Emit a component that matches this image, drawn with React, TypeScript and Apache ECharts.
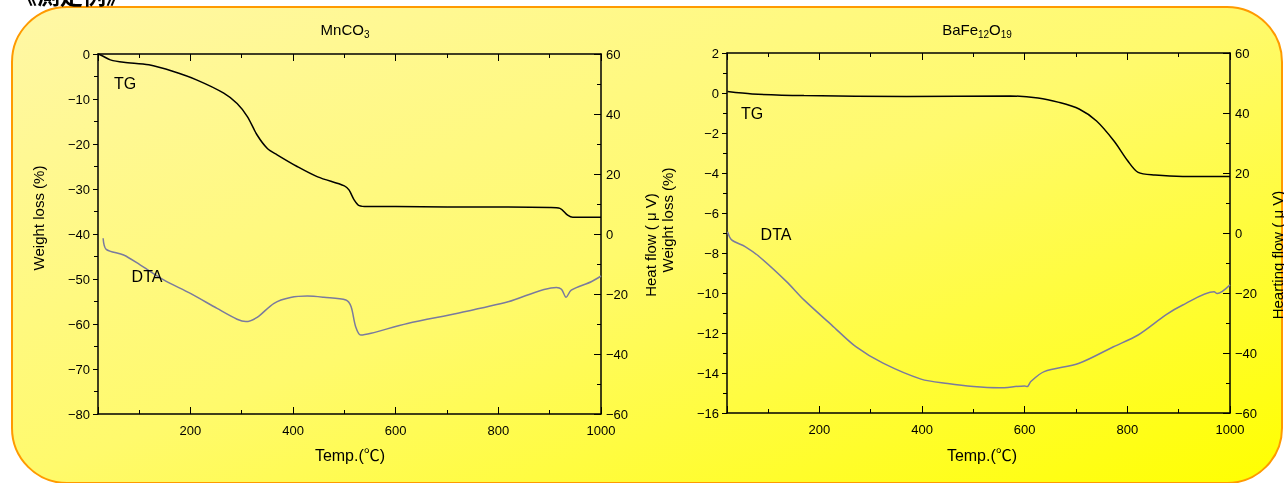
import React, { useEffect, useRef } from "react";
import * as echarts from "echarts";

// ---- Data (temperature °C, value) ----
const mnTG: [number, number][] = [
  [21, 0], [30, -0.5], [44, -1.3], [70, -1.85], [119, -2.4], [167, -3.9], [213, -5.8],
  [265, -8.7], [291, -11], [311, -13.9], [330, -18], [350, -21], [369, -22.4], [408, -25],
  [448, -27.3], [500, -29.3], [509, -30.2], [519, -32.4], [529, -33.7], [545, -33.9],
  [600, -33.9], [700, -34.0], [800, -34.0], [900, -34.1], [920, -34.3], [935, -35.8],
  [945, -36.3], [1000, -36.3],
];
const mnDTA: [number, number][] = [
  [30, -1.4], [36, -5.1], [70, -7], [102, -10.3], [148, -15.3], [200, -19.8], [252, -24.8],
  [291, -28.4], [308, -29.2], [330, -27.8], [363, -23.1], [395, -21.2], [428, -20.7],
  [460, -21.1], [503, -22], [513, -24.2], [522, -30.9], [532, -33.7], [552, -33.1],
  [623, -29.8], [721, -26.4], [819, -22.6], [913, -17.8], [923, -18.4], [932, -21.1],
  [942, -18.7], [981, -15.9], [1000, -14],
];
const baTG: [number, number][] = [
  [21, 0.07], [69, -0.05], [170, -0.13], [370, -0.17], [572, -0.15], [626, -0.25],
  [667, -0.47], [706, -0.8], [740, -1.4], [774, -2.4], [801, -3.4], [821, -3.97],
  [854, -4.1], [908, -4.17], [1000, -4.17],
];
const baDTA: [number, number][] = [
  [21, 0.4], [29, -2.3], [56, -4.6], [83, -7.9], [136, -16.2], [170, -22.3], [224, -30.7],
  [271, -37.9], [324, -43.4], [398, -48.7], [450, -50.2], [500, -51.2], [550, -51.6],
  [600, -51.0], [605, -51.2], [612, -49.5], [638, -46.2], [706, -43.4], [773, -37.9],
  [821, -34], [875, -27.3], [908, -24], [969, -19.6], [975, -20.2], [1000, -17.3],
];

const FONT = "'Liberation Sans', 'Noto Sans CJK JP', sans-serif";
const fmt = (v: number) => String(v).replace("-", "\u2212");

export default function App() {
  const ref = useRef<HTMLDivElement>(null);
  useEffect(() => {
    if (!ref.current) return;
    const chart = echarts.init(ref.current, null, { renderer: "svg" });

    const xAxisBase = (gridIndex: number, position: "bottom" | "top") => ({
      type: "value",
      gridIndex,
      position,
      min: 20,
      max: 1000,
      axisLine: { show: true, onZero: false, lineStyle: { color: "#000", width: 1.5 } },
      axisTick: { show: true, inside: true, length: 7, lineStyle: { color: "#000" } },
      minorTick: { show: true, splitNumber: 2, length: 4, lineStyle: { color: "#000" } },
      splitLine: { show: false },
      axisLabel: {
        show: position === "bottom",
        showMinLabel: false,
        color: "#000",
        fontSize: 13,
        fontFamily: FONT,
        margin: 10,
        formatter: fmt,
      },
    });

    const yAxisBase = (gridIndex: number, position: "left" | "right", min: number, max: number, interval: number) => ({
      type: "value",
      gridIndex,
      position,
      min,
      max,
      interval,
      axisLine: { show: true, onZero: false, lineStyle: { color: "#000", width: 1.5 } },
      axisTick: { show: true, inside: position === "right", length: position === "right" ? 7 : 5, lineStyle: { color: "#000" } },
      minorTick: { show: true, splitNumber: 2, length: 4, lineStyle: { color: "#000" } },
      splitLine: { show: false },
      axisLabel: { color: "#000", fontSize: 13, fontFamily: FONT, margin: position === "right" ? 5 : 8, formatter: fmt },
    });

    const vText = (text: string, x: number, y: number) => ({
      type: "text",
      x,
      y,
      rotation: Math.PI / 2,
      z: 100,
      style: {
        text,
        fill: "#000",
        font: `15px ${FONT}`,
        align: "center",
        verticalAlign: "middle",
      },
    });
    const hText = (text: string, x: number, y: number, size = 16) => ({
      type: "text",
      x,
      y,
      z: 100,
      style: {
        text,
        fill: "#000",
        font: `${size}px ${FONT}`,
        align: "center",
        verticalAlign: "middle",
      },
    });
    const titleText = (text: string, x: number) => ({
      type: "text",
      x,
      y: 29,
      z: 100,
      style: {
        text,
        fill: "#000",
        fontFamily: FONT,
        fontSize: 15,
        align: "center",
        verticalAlign: "middle",
        rich: {
          a: { fontSize: 15, fontFamily: FONT, fill: "#000" },
          s: { fontSize: 10, fontFamily: FONT, fill: "#000", padding: [10, 0, 0, 0] },
        },
      },
    });

    const lineSeries = (data: [number, number][], xi: number, yi: number, color: string) => ({
      type: "line",
      xAxisIndex: xi,
      yAxisIndex: yi,
      data,
      showSymbol: false,
      smooth: 0.3,
      lineStyle: { color, width: 1.5 },
      silent: true,
    });

    chart.setOption({
      animation: false,
      grid: [
        { left: 98, top: 54, width: 503, height: 360 },
        { left: 727, top: 53, width: 503, height: 360 },
      ],
      xAxis: [
        xAxisBase(0, "bottom"),
        xAxisBase(0, "top"),
        xAxisBase(1, "bottom"),
        xAxisBase(1, "top"),
      ],
      yAxis: [
        yAxisBase(0, "left", -80, 0, 10),
        yAxisBase(0, "right", -60, 60, 20),
        yAxisBase(1, "left", -16, 2, 2),
        yAxisBase(1, "right", -60, 60, 20),
      ],
      series: [
        lineSeries(mnTG, 0, 0, "#000000"),
        lineSeries(mnDTA, 0, 1, "#7A7A9E"),
        lineSeries(baTG, 2, 2, "#000000"),
        lineSeries(baDTA, 2, 3, "#7A7A9E"),
      ],
      graphic: [
        {
          type: "rect",
          z: -10,
          silent: true,
          shape: { x: 12, y: 7, width: 1270, height: 476, r: 55 },
          style: {
            fill: new echarts.graphic.LinearGradient(0, 0, 1, 1, [
              { offset: 0, color: "#FFF7A6" },
              { offset: 0.5, color: "#FFFA6C" },
              { offset: 1, color: "#FFFF00" },
            ]),
            stroke: "#FF9A00",
            lineWidth: 2,
          },
        },
        {
          type: "text",
          x: 14,
          y: -18,
          z: 100,
          style: { text: "《測定例》", fill: "#000", font: `bold 23px 'Noto Sans CJK JP', sans-serif` },
        },
        titleText("{a|MnCO}{s|3}", 345),
        titleText("{a|BaFe}{s|12}{a|O}{s|19}", 977),
        vText("Weight loss (%)", 38, 218),
        vText("Heat flow ( μ V)", 650, 245),
        vText("Weight loss (%)", 667, 220),
        vText("Hearting flow ( μ V)", 1277, 255),
        hText("Temp.(℃)", 350, 455),
        hText("Temp.(℃)", 982, 455),
        hText("TG", 125, 83),
        hText("DTA", 147, 276),
        hText("TG", 752, 113),
        hText("DTA", 776, 234),
      ],
    });

    return () => chart.dispose();
  }, []);

  return (
    <div
      ref={ref}
      style={{ position: "fixed", left: 0, top: 0, width: 1284, height: 483 }}
    />
  );
}
